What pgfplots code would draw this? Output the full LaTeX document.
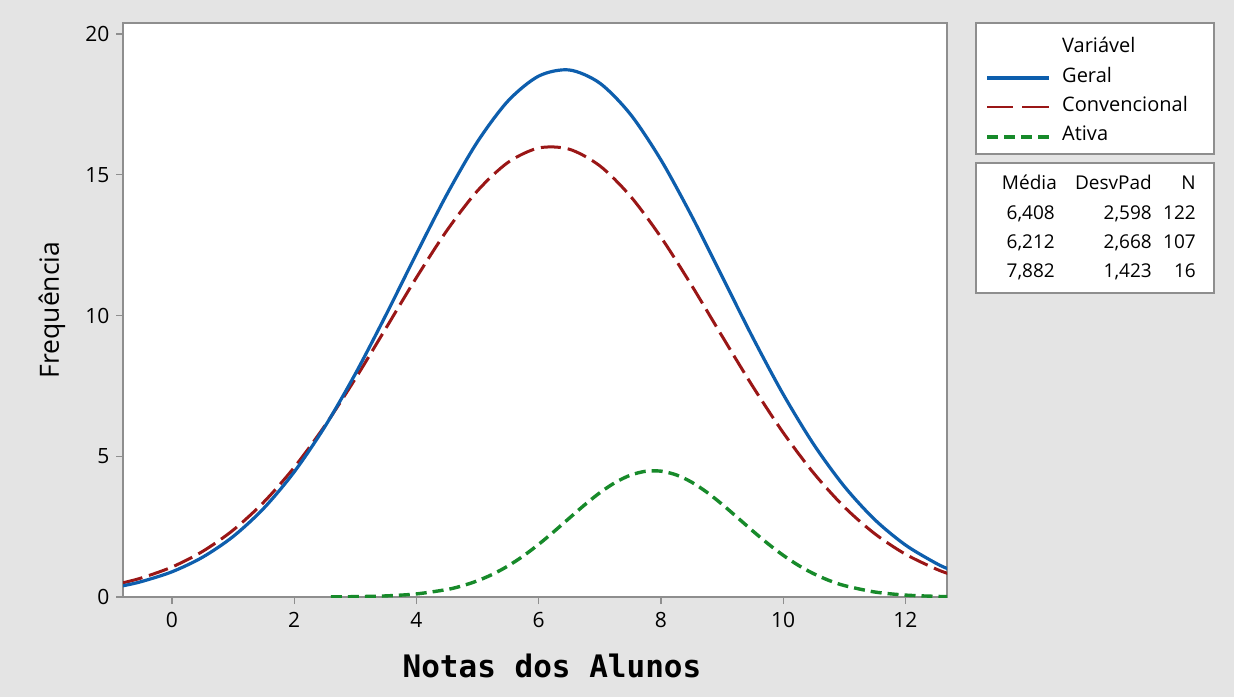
\documentclass[border=0pt]{standalone}
\usepackage{pgfplots}
\pgfplotsset{compat=1.18}
\usepackage{fontspec}
\setmainfont{Open Sans}
\setmonofont{DejaVu Sans Mono}
\definecolor{bg}{HTML}{E4E4E4}
\definecolor{frame}{HTML}{8E8E8E}
\definecolor{cblue}{HTML}{0D5EAD}
\definecolor{cred}{HTML}{9A1616}
\definecolor{cgreen}{HTML}{178A2A}

\pgfplotstableread{
x y
-0.8 0.399
-0.5 0.547
0 0.894
0.5 1.411
1 2.146
1.5 3.145
2 4.441
2.5 6.043
3 7.924
3.5 10.013
4 12.192
4.5 14.306
5 16.175
5.5 17.624
6 18.504
6.5 18.722
7 18.254
7.5 17.150
8 15.527
8.5 13.547
9 11.389
9.5 9.227
10 7.203
10.5 5.419
11 3.929
11.5 2.744
12 1.847
12.5 1.198
12.7 0.998
}\geral

\pgfplotstableread{
x y
-0.8 0.506
-0.5 0.676
0 1.064
0.5 1.617
1 2.373
1.5 3.364
2 4.602
2.5 6.078
3 7.752
3.5 9.544
4 11.346
4.5 13.023
5 14.432
5.5 15.440
6 15.950
6.5 15.907
7 15.317
7.5 14.240
8 12.782
8.5 11.077
9 9.268
9.5 7.488
10 5.840
10.5 4.398
11 3.197
11.5 2.244
12 1.521
12.5 0.995
12.7 0.832
}\conv

\pgfplotstableread{
x y
2.6 0.005
3 0.013
3.5 0.039
4 0.109
4.5 0.266
4.75 0.398
5 0.577
5.25 0.811
5.5 1.105
5.75 1.460
6 1.871
6.25 2.324
6.5 2.799
6.75 3.269
7 3.702
7.25 4.064
7.5 4.327
7.75 4.466
8 4.470
8.25 4.338
8.5 4.082
8.75 3.724
9 3.295
9.25 2.826
9.5 2.350
9.75 1.895
10 1.482
10.25 1.123
10.5 0.826
10.75 0.588
11 0.407
11.5 0.177
12 0.068
12.5 0.023
12.7 0.015
}\ativa

\begin{document}
\begin{tikzpicture}[x=1pt,y=1pt]
\fill[bg] (0,0) rectangle (1234,697);
\begin{axis}[
  at={(123pt,100pt)}, anchor=south west,
  width=824pt, height=574pt, scale only axis,
  xmin=-0.8, xmax=12.68, ymin=0, ymax=20.39,
  axis background/.style={fill=white},
  axis line style={draw=frame, line width=1.6pt},
  xtick={0,2,...,12}, ytick={0,5,...,20},
  tick align=outside, xtick pos=bottom, ytick pos=left,
  major tick length=7pt,
  tick style={draw=frame, line width=1.3pt},
  /pgf/number format/assume math mode=true,
  tick label style={font=\fontsize{21}{21}\selectfont, text=black},
  xticklabel style={yshift=-5pt},
  yticklabel style={xshift=-3pt},
  xlabel={Notas dos Alunos},
  ylabel={Frequência},
  xlabel style={font=\ttfamily\bfseries\fontsize{31}{31}\selectfont, at={(axis description cs:0.5206,0)}, anchor=center, yshift=-69pt},
  ylabel style={font=\fontsize{26.5}{26.5}\selectfont, at={(axis description cs:0,0.5)}, anchor=center, yshift=71pt},
  clip=true,
]
\addplot[cgreen, line width=3.4pt, dash pattern=on 11pt off 6pt, smooth] table {\ativa};
\addplot[cred, line width=3pt, dash pattern=on 20pt off 7pt, smooth] table {\conv};
\addplot[cblue, line width=3.2pt, smooth] table {\geral};
\end{axis}
% legend box
\draw[frame, line width=1.6pt, fill=white] (976,674) rectangle (1214,543);
\node[anchor=base west, font=\fontsize{20}{20}\selectfont, inner sep=0pt] at (1062,644) {Variável};
\draw[cblue, line width=3.3pt] (987,619) -- (1049,619);
\node[anchor=base west, font=\fontsize{20}{20}\selectfont, inner sep=0pt] at (1062,614) {Geral};
\draw[cred, line width=2.4pt] (987,590) -- (1013,590) (1022,590) -- (1049,590);
\node[anchor=base west, font=\fontsize{20}{20}\selectfont, inner sep=0pt] at (1062,585) {Convencional};
\draw[cgreen, line width=3.4pt, dash pattern=on 11pt off 6pt] (987,560) -- (1049,560);
\node[anchor=base west, font=\fontsize{20}{20}\selectfont, inner sep=0pt] at (1062,556) {Ativa};
% stats box
\draw[frame, line width=1.6pt, fill=white] (976,534) rectangle (1214,404);
\begin{scope}[every node/.style={anchor=base east, font=\fontsize{19}{19}\selectfont, inner sep=0pt}]
\node at (1057,507) {Média};
\node at (1152,507) {DesvPad};
\node at (1196,507) {N};
\node at (1055,477) {6,408};
\node at (1152,477) {2,598};
\node at (1196,477) {122};
\node at (1055,448) {6,212};
\node at (1152,448) {2,668};
\node at (1196,448) {107};
\node at (1055,419) {7,882};
\node at (1152,419) {1,423};
\node at (1196,419) {16};
\end{scope}
\end{tikzpicture}
\end{document}
